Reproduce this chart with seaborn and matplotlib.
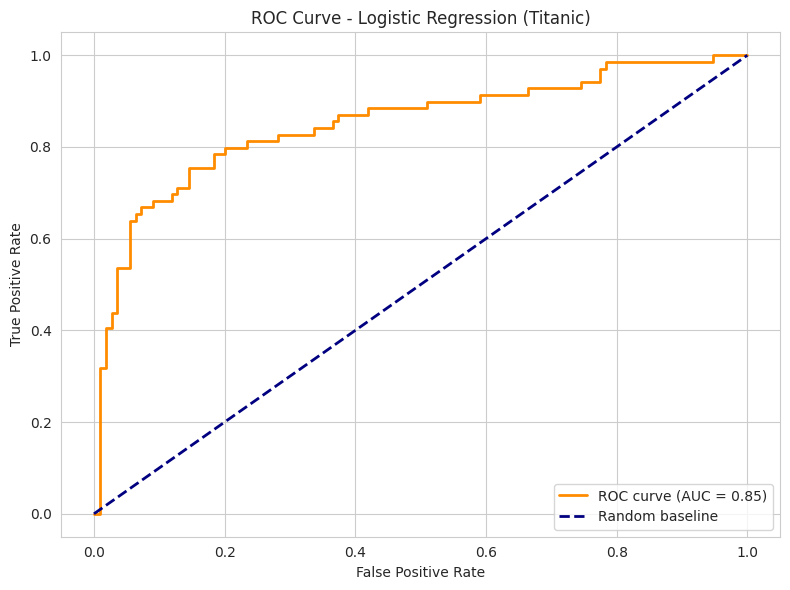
import pandas as pd
import numpy as np
import matplotlib
matplotlib.use("Agg")
import matplotlib.pyplot as plt
import seaborn as sns

# ROC 곡선 좌표
fpr = [0.0, 0.009, 0.009, 0.018, 0.018, 0.028, 0.028, 0.036, 0.036, 0.055, 0.055,
       0.064, 0.064, 0.072, 0.072, 0.091, 0.091, 0.119, 0.119, 0.127, 0.127,
       0.146, 0.146, 0.183, 0.183, 0.201, 0.201, 0.235, 0.235, 0.282, 0.282,
       0.337, 0.337, 0.366, 0.366, 0.373, 0.373, 0.419, 0.419, 0.510, 0.510,
       0.591, 0.591, 0.665, 0.665, 0.746, 0.746, 0.774, 0.774, 0.783, 0.783,
       0.947, 0.947, 1.0]
tpr = [0.0, 0.0, 0.317, 0.317, 0.406, 0.406, 0.437, 0.437, 0.537, 0.537, 0.638,
       0.638, 0.653, 0.653, 0.668, 0.668, 0.683, 0.683, 0.697, 0.697, 0.711,
       0.711, 0.755, 0.755, 0.784, 0.784, 0.798, 0.798, 0.813, 0.813, 0.827,
       0.827, 0.842, 0.842, 0.856, 0.856, 0.870, 0.870, 0.885, 0.885, 0.899,
       0.899, 0.914, 0.914, 0.928, 0.928, 0.942, 0.942, 0.971, 0.971, 0.986,
       0.986, 1.0, 1.0]
auc_value = 0.85
baseline = [0.0, 1.0]

sns.set_style("whitegrid")

roc = pd.DataFrame({"fpr": fpr, "tpr": tpr})
base = pd.DataFrame({"x": baseline, "y": baseline})

fig, ax = plt.subplots(figsize=(8, 6), dpi=100)
sns.lineplot(data=roc, x="fpr", y="tpr", sort=False, estimator=None,
             color="darkorange", lw=2, ax=ax,
             label=f"ROC curve (AUC = {auc_value:.2f})")
sns.lineplot(data=base, x="x", y="y", sort=False, estimator=None,
             color="navy", lw=2, linestyle="--", ax=ax, label="Random baseline")

ax.set_xlabel("False Positive Rate")
ax.set_ylabel("True Positive Rate")
ax.set_title("ROC Curve - Logistic Regression (Titanic)")
ax.legend(loc="lower right")
plt.tight_layout()
plt.savefig("out.png", bbox_inches="tight")
